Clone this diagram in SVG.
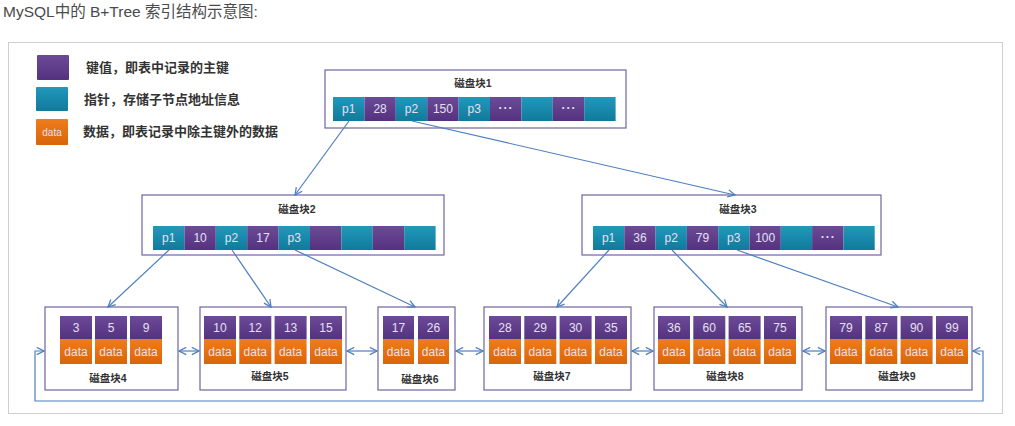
<svg xmlns="http://www.w3.org/2000/svg" width="1015" height="426" viewBox="0 0 1015 426">
<defs>
<linearGradient id="gP" x1="0" y1="0" x2="0" y2="1"><stop offset="0" stop-color="#6b4a98"/><stop offset="1" stop-color="#553280"/></linearGradient>
<linearGradient id="gT" x1="0" y1="0" x2="0" y2="1"><stop offset="0" stop-color="#2298bb"/><stop offset="1" stop-color="#107a9c"/></linearGradient>
<linearGradient id="gO" x1="0" y1="0" x2="0" y2="1"><stop offset="0" stop-color="#ee7d1c"/><stop offset="1" stop-color="#d9650a"/></linearGradient>
<marker id="ah" viewBox="0 0 10 10" refX="9" refY="5" markerWidth="9" markerHeight="9" markerUnits="userSpaceOnUse" orient="auto-start-reverse">
<path d="M1,1 L9,5 L1,9" fill="none" stroke="#4d7fbf" stroke-width="1.4"/>
</marker>
</defs>
<style>
.t{font-family:"Liberation Sans","Noto Sans CJK SC",sans-serif}
.title{font-size:15.5px;fill:#4a4a4a}
.leg{font-size:13px;fill:#333;font-weight:bold}
.blk{fill:#fff;stroke:#6f64a0;stroke-width:1.2}
.lbl{font-size:10.5px;fill:#333;font-weight:bold;text-anchor:middle}
.p{fill:url(#gP)}
.b{fill:url(#gT)}
.o{fill:url(#gO)}
.ct{font-size:12px;fill:#e6e0f0;text-anchor:middle}
.dots{font-size:12px;fill:#e6e0f0;text-anchor:middle;font-weight:bold;letter-spacing:1px}
.conn{fill:none;stroke:#4d7fbf;stroke-width:1.2}
</style>
<rect x="0" y="0" width="1015" height="426" fill="#fff"/>
<text class="t title" x="3" y="17">MySQL中的 B+Tree 索引结构示意图:</text>
<rect x="8.5" y="42.5" width="994" height="371" fill="#fff" stroke="#cfcfcf" stroke-width="1"/>

<g id="legend">
<rect class="p" x="37" y="55" width="32" height="25" rx="1"/>
<rect class="b" x="36" y="87" width="32" height="24" rx="1"/>
<rect class="o" x="36" y="119" width="32" height="26" rx="1"/>
<text class="t ct" x="52" y="136" style="font-size:10px">data</text>
<text class="t leg" x="86" y="72">键值，即表中记录的主键</text>
<text class="t leg" x="84" y="104">指针，存储子节点地址信息</text>
<text class="t leg" x="83" y="136">数据，即表记录中除主键外的数据</text>
</g>

<g id="block1">
<rect class="blk" x="325" y="70" width="301" height="58"/>
<text class="t lbl" x="473" y="87">磁盘块1</text>
<rect class="b" x="333" y="97" width="31.4" height="24"/>
<rect class="p" x="364.4" y="97" width="31.4" height="24"/>
<rect class="b" x="395.8" y="97" width="31.4" height="24"/>
<rect class="p" x="427.2" y="97" width="31.4" height="24"/>
<rect class="b" x="458.6" y="97" width="31.4" height="24"/>
<rect class="p" x="490" y="97" width="31.4" height="24"/>
<rect class="b" x="521.4" y="97" width="31.4" height="24"/>
<rect class="p" x="552.8" y="97" width="31.4" height="24"/>
<rect class="b" x="584.2" y="97" width="31.4" height="24"/>
<text class="t ct" x="348.7" y="113">p1</text>
<text class="t ct" x="380.1" y="113">28</text>
<text class="t ct" x="411.5" y="113">p2</text>
<text class="t ct" x="442.9" y="113">150</text>
<text class="t ct" x="474.3" y="113">p3</text>
<text class="t dots" x="506" y="112">···</text>
<text class="t dots" x="569" y="112">···</text>
</g>

<g id="block2">
<rect class="blk" x="142" y="195" width="302" height="60"/>
<text class="t lbl" x="297" y="213">磁盘块2</text>
<rect class="b" x="153" y="226" width="31.4" height="24"/>
<rect class="p" x="184.4" y="226" width="31.4" height="24"/>
<rect class="b" x="215.8" y="226" width="31.4" height="24"/>
<rect class="p" x="247.2" y="226" width="31.4" height="24"/>
<rect class="b" x="278.6" y="226" width="31.4" height="24"/>
<rect class="p" x="310" y="226" width="31.4" height="24"/>
<rect class="b" x="341.4" y="226" width="31.4" height="24"/>
<rect class="p" x="372.8" y="226" width="31.4" height="24"/>
<rect class="b" x="404.2" y="226" width="31.4" height="24"/>
<text class="t ct" x="168.7" y="242">p1</text>
<text class="t ct" x="200.1" y="242">10</text>
<text class="t ct" x="231.5" y="242">p2</text>
<text class="t ct" x="262.9" y="242">17</text>
<text class="t ct" x="294.3" y="242">p3</text>
</g>

<g id="block3">
<rect class="blk" x="582" y="195" width="299" height="60"/>
<text class="t lbl" x="738" y="213">磁盘块3</text>
<rect class="b" x="593" y="226" width="31.3" height="24"/>
<rect class="p" x="624.3" y="226" width="31.3" height="24"/>
<rect class="b" x="655.6" y="226" width="31.3" height="24"/>
<rect class="p" x="686.9" y="226" width="31.3" height="24"/>
<rect class="b" x="718.2" y="226" width="31.3" height="24"/>
<rect class="p" x="749.5" y="226" width="31.3" height="24"/>
<rect class="b" x="780.8" y="226" width="31.3" height="24"/>
<rect class="p" x="812.1" y="226" width="31.3" height="24"/>
<rect class="b" x="843.4" y="226" width="31.3" height="24"/>
<text class="t ct" x="608.6" y="242">p1</text>
<text class="t ct" x="640" y="242">36</text>
<text class="t ct" x="671.2" y="242">p2</text>
<text class="t ct" x="702.5" y="242">79</text>
<text class="t ct" x="733.8" y="242">p3</text>
<text class="t ct" x="765.2" y="242">100</text>
<text class="t dots" x="828.3" y="241">···</text>
</g>

<g id="block4">
<rect class="blk" x="45" y="307" width="133" height="83"/>
<rect class="p" x="60" y="316" width="32" height="23"/><rect class="o" x="60" y="339" width="32" height="25"/>
<rect class="p" x="95" y="316" width="32" height="23"/><rect class="o" x="95" y="339" width="32" height="25"/>
<rect class="p" x="130" y="316" width="32" height="23"/><rect class="o" x="130" y="339" width="32" height="25"/>
<text class="t ct" x="76" y="332">3</text><text class="t ct" x="76" y="356">data</text>
<text class="t ct" x="111" y="332">5</text><text class="t ct" x="111" y="356">data</text>
<text class="t ct" x="146" y="332">9</text><text class="t ct" x="146" y="356">data</text>
<text class="t lbl" x="108" y="382">磁盘块4</text>
</g>

<g id="block5">
<rect class="blk" x="200" y="307" width="146" height="83"/>
<rect class="p" x="204" y="316" width="32" height="23"/><rect class="o" x="204" y="339" width="32" height="25"/>
<rect class="p" x="239.3" y="316" width="32" height="23"/><rect class="o" x="239.3" y="339" width="32" height="25"/>
<rect class="p" x="274.6" y="316" width="32" height="23"/><rect class="o" x="274.6" y="339" width="32" height="25"/>
<rect class="p" x="310" y="316" width="32" height="23"/><rect class="o" x="310" y="339" width="32" height="25"/>
<text class="t ct" x="220" y="332">10</text><text class="t ct" x="220" y="356">data</text>
<text class="t ct" x="255.3" y="332">12</text><text class="t ct" x="255.3" y="356">data</text>
<text class="t ct" x="290.6" y="332">13</text><text class="t ct" x="290.6" y="356">data</text>
<text class="t ct" x="326" y="332">15</text><text class="t ct" x="326" y="356">data</text>
<text class="t lbl" x="270" y="380">磁盘块5</text>
</g>

<g id="block6">
<rect class="blk" x="378" y="307" width="77" height="83"/>
<rect class="p" x="383" y="316" width="31" height="23"/><rect class="o" x="383" y="339" width="31" height="25"/>
<rect class="p" x="418" y="316" width="31" height="23"/><rect class="o" x="418" y="339" width="31" height="25"/>
<text class="t ct" x="398.5" y="332">17</text><text class="t ct" x="398.5" y="356">data</text>
<text class="t ct" x="433.5" y="332">26</text><text class="t ct" x="433.5" y="356">data</text>
<text class="t lbl" x="420" y="383">磁盘块6</text>
</g>

<g id="block7">
<rect class="blk" x="484" y="307" width="147" height="83"/>
<rect class="p" x="489" y="316" width="32" height="23"/><rect class="o" x="489" y="339" width="32" height="25"/>
<rect class="p" x="524.3" y="316" width="32" height="23"/><rect class="o" x="524.3" y="339" width="32" height="25"/>
<rect class="p" x="559.6" y="316" width="32" height="23"/><rect class="o" x="559.6" y="339" width="32" height="25"/>
<rect class="p" x="595" y="316" width="32" height="23"/><rect class="o" x="595" y="339" width="32" height="25"/>
<text class="t ct" x="505" y="332">28</text><text class="t ct" x="505" y="356">data</text>
<text class="t ct" x="540.3" y="332">29</text><text class="t ct" x="540.3" y="356">data</text>
<text class="t ct" x="575.6" y="332">30</text><text class="t ct" x="575.6" y="356">data</text>
<text class="t ct" x="611" y="332">35</text><text class="t ct" x="611" y="356">data</text>
<text class="t lbl" x="552" y="380">磁盘块7</text>
</g>

<g id="block8">
<rect class="blk" x="654" y="307" width="148" height="83"/>
<rect class="p" x="658" y="316" width="32" height="23"/><rect class="o" x="658" y="339" width="32" height="25"/>
<rect class="p" x="693.3" y="316" width="32" height="23"/><rect class="o" x="693.3" y="339" width="32" height="25"/>
<rect class="p" x="728.6" y="316" width="32" height="23"/><rect class="o" x="728.6" y="339" width="32" height="25"/>
<rect class="p" x="764" y="316" width="32" height="23"/><rect class="o" x="764" y="339" width="32" height="25"/>
<text class="t ct" x="674" y="332">36</text><text class="t ct" x="674" y="356">data</text>
<text class="t ct" x="709.3" y="332">60</text><text class="t ct" x="709.3" y="356">data</text>
<text class="t ct" x="744.6" y="332">65</text><text class="t ct" x="744.6" y="356">data</text>
<text class="t ct" x="780" y="332">75</text><text class="t ct" x="780" y="356">data</text>
<text class="t lbl" x="725" y="380">磁盘块8</text>
</g>

<g id="block9">
<rect class="blk" x="826" y="307" width="146" height="83"/>
<rect class="p" x="830" y="316" width="32" height="23"/><rect class="o" x="830" y="339" width="32" height="25"/>
<rect class="p" x="865.3" y="316" width="32" height="23"/><rect class="o" x="865.3" y="339" width="32" height="25"/>
<rect class="p" x="900.6" y="316" width="32" height="23"/><rect class="o" x="900.6" y="339" width="32" height="25"/>
<rect class="p" x="936" y="316" width="32" height="23"/><rect class="o" x="936" y="339" width="32" height="25"/>
<text class="t ct" x="846" y="332">79</text><text class="t ct" x="846" y="356">data</text>
<text class="t ct" x="881.3" y="332">87</text><text class="t ct" x="881.3" y="356">data</text>
<text class="t ct" x="916.6" y="332">90</text><text class="t ct" x="916.6" y="356">data</text>
<text class="t ct" x="952" y="332">99</text><text class="t ct" x="952" y="356">data</text>
<text class="t lbl" x="897" y="380">磁盘块9</text>
</g>

<g id="connectors">
<path class="conn" d="M349,121 L295,195" marker-end="url(#ah)"/>
<path class="conn" d="M412,121 L735,195" marker-end="url(#ah)"/>
<path class="conn" d="M169,250 L108,307" marker-end="url(#ah)"/>
<path class="conn" d="M232,250 L271,307" marker-end="url(#ah)"/>
<path class="conn" d="M295,250 L415,307" marker-end="url(#ah)"/>
<path class="conn" d="M609,250 L557,307" marker-end="url(#ah)"/>
<path class="conn" d="M672,250 L727,307" marker-end="url(#ah)"/>
<path class="conn" d="M737,250 L898,307" marker-end="url(#ah)"/>
<path class="conn" d="M179,351 L199,351" marker-start="url(#ah)" marker-end="url(#ah)"/>
<path class="conn" d="M347,351 L377,351" marker-start="url(#ah)" marker-end="url(#ah)"/>
<path class="conn" d="M456,351 L483,351" marker-start="url(#ah)" marker-end="url(#ah)"/>
<path class="conn" d="M632,351 L653,351" marker-start="url(#ah)" marker-end="url(#ah)"/>
<path class="conn" d="M803,351 L825,351" marker-start="url(#ah)" marker-end="url(#ah)"/>
<path class="conn" d="M973,351 L983,351 L983,401 L35,401 L35,351 L44,351" marker-start="url(#ah)" marker-end="url(#ah)"/>
</g>
</svg>
